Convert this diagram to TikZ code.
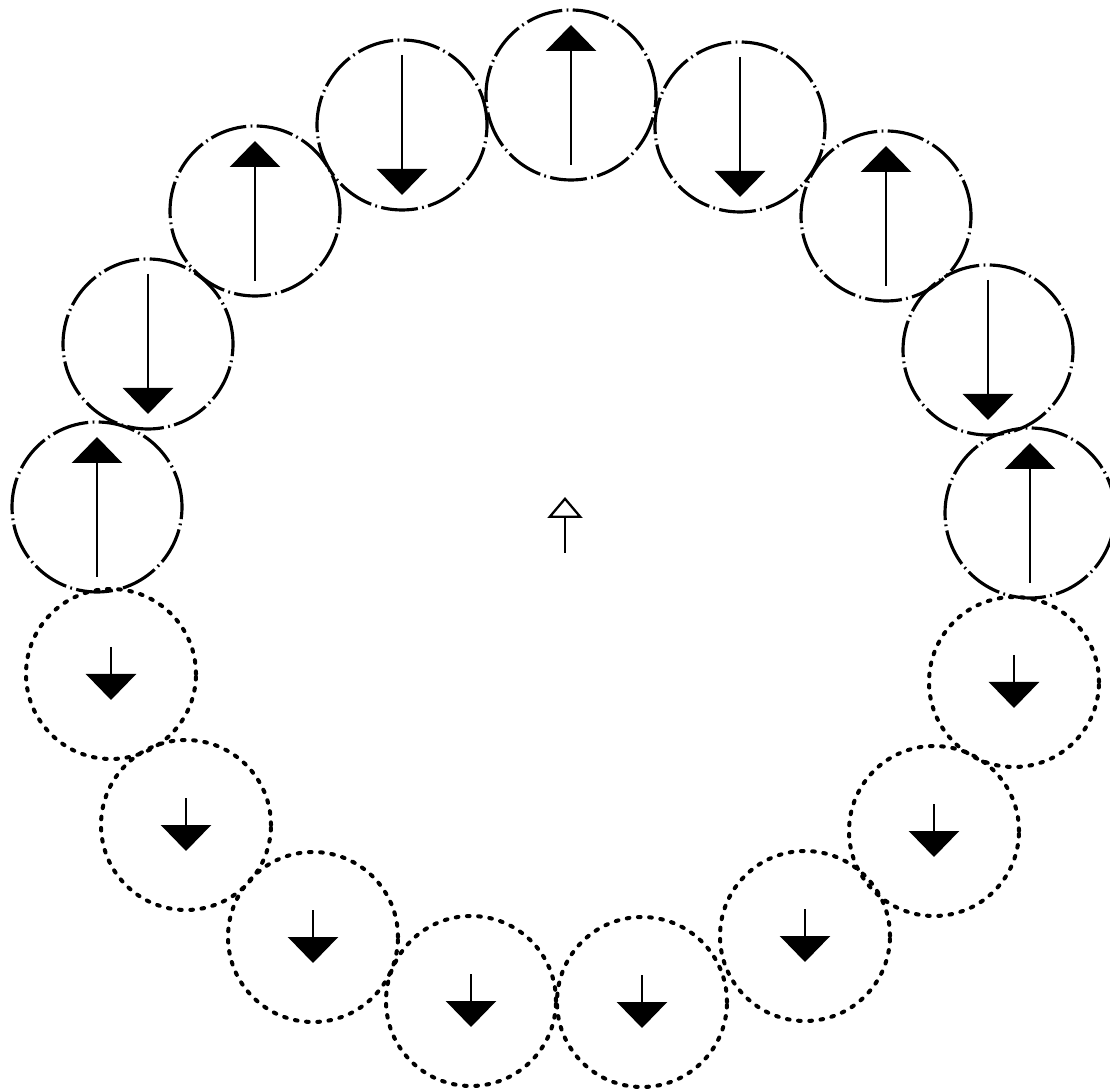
\documentclass[tikz,border=0pt]{standalone}
\usepackage{tikz}
\usetikzlibrary{arrows.meta}
\tikzset{
  dashring/.style={circle, draw, inner sep=0pt, minimum size=3.4cm, line width=1.8pt,
    dash pattern=on 21pt off 2.5pt on 1pt off 2.5pt},
  dotring/.style={circle, draw, inner sep=0pt, minimum size=3.4cm, line width=2.3pt,
    line cap=round, dash pattern=on 1.5pt off 4.9pt},
  spinarrow/.style={line width=1.5pt, -{Triangle[width=1.0cm, length=0.52cm]}},
  netarrow/.style={line width=1.3pt, -{Triangle[open, width=0.7cm, length=0.42cm]}}
}

\begin{document}
\begin{tikzpicture}
  \useasboundingbox (0,0) rectangle (22.2,21.76);
  % upper half: dash-dot rings, long arrows
  \node[dashring] (t1) at (1.94,11.62) {};
  \node[dashring] (t2) at (2.96,14.88) {};
  \node[dashring] (t3) at (5.10,17.54) {};
  \node[dashring] (t4) at (8.04,19.26) {};
  \node[dashring] (t5) at (11.42,19.86) {};
  \node[dashring] (t6) at (14.80,19.22) {};
  \node[dashring] (t7) at (17.72,17.44) {};
  \node[dashring] (t8) at (19.76,14.76) {};
  \node[dashring] (t9) at (20.60,11.50) {};
  \draw[spinarrow] ([yshift=-1.4cm]t1.center) -- ([yshift=1.4cm]t1.center);
  \draw[spinarrow] ([yshift=1.4cm]t2.center) -- ([yshift=-1.4cm]t2.center);
  \draw[spinarrow] ([yshift=-1.4cm]t3.center) -- ([yshift=1.4cm]t3.center);
  \draw[spinarrow] ([yshift=1.4cm]t4.center) -- ([yshift=-1.4cm]t4.center);
  \draw[spinarrow] ([yshift=-1.4cm]t5.center) -- ([yshift=1.4cm]t5.center);
  \draw[spinarrow] ([yshift=1.4cm]t6.center) -- ([yshift=-1.4cm]t6.center);
  \draw[spinarrow] ([yshift=-1.4cm]t7.center) -- ([yshift=1.4cm]t7.center);
  \draw[spinarrow] ([yshift=1.4cm]t8.center) -- ([yshift=-1.4cm]t8.center);
  \draw[spinarrow] ([yshift=-1.4cm]t9.center) -- ([yshift=1.4cm]t9.center);
  % lower half: dotted rings, short arrows
  \node[dotring] (b1) at (2.22,8.28) {};
  \node[dotring] (b2) at (3.72,5.26) {};
  \node[dotring] (b3) at (6.26,3.02) {};
  \node[dotring] (b4) at (9.42,1.74) {};
  \node[dotring] (b5) at (12.84,1.72) {};
  \node[dotring] (b6) at (16.10,3.04) {};
  \node[dotring] (b7) at (18.68,5.14) {};
  \node[dotring] (b8) at (20.28,8.12) {};
  \draw[spinarrow] ([yshift=0.54cm]b1.center) -- ([yshift=-0.52cm]b1.center);
  \draw[spinarrow] ([yshift=0.54cm]b2.center) -- ([yshift=-0.52cm]b2.center);
  \draw[spinarrow] ([yshift=0.54cm]b3.center) -- ([yshift=-0.52cm]b3.center);
  \draw[spinarrow] ([yshift=0.54cm]b4.center) -- ([yshift=-0.52cm]b4.center);
  \draw[spinarrow] ([yshift=0.54cm]b5.center) -- ([yshift=-0.52cm]b5.center);
  \draw[spinarrow] ([yshift=0.54cm]b6.center) -- ([yshift=-0.52cm]b6.center);
  \draw[spinarrow] ([yshift=0.54cm]b7.center) -- ([yshift=-0.52cm]b7.center);
  \draw[spinarrow] ([yshift=0.54cm]b8.center) -- ([yshift=-0.52cm]b8.center);
  % net moment in the middle
  \coordinate (mid) at (11.30,10.70);
  \coordinate (midtip) at (11.30,11.82);
  \draw[netarrow] (mid) -- (midtip);
\end{tikzpicture}
\end{document}
